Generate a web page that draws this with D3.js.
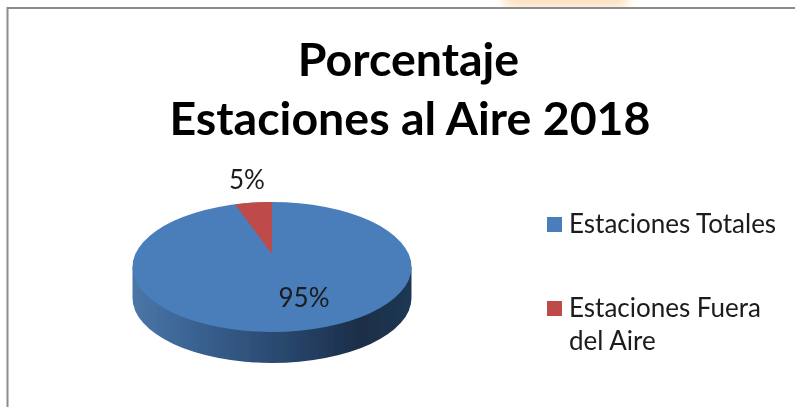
<!DOCTYPE html>
<html><head><meta charset="utf-8">
<script src="https://cdn.jsdelivr.net/npm/d3@7"></script>
<style>html,body{margin:0;padding:0;background:#fff}svg{display:block}text{font-family:Lato,"Open Sans",sans-serif}</style>
</head><body><svg id="c" width="795" height="407"></svg>
<script>
const categories = ["Estaciones Totales", "Estaciones Fuera del Aire"];
const values = [95, 5];
const percentLabels = ["95%", "5%"];
const titleLines = ["Porcentaje", "Estaciones al Aire 2018"];
const legendLines = [["Estaciones Totales"], ["Estaciones Fuera", "del Aire"]];
const colors = ["#4a7ebb", "#be4b48"];

const svg = d3.select("#c");
const defs = svg.append("defs");
defs.append("filter").attr("id","soft").attr("x","-5%").attr("y","-5%").attr("width","110%").attr("height","110%")
  .append("feGaussianBlur").attr("stdDeviation",0.45);
defs.append("filter").attr("id","glow").attr("x","-30%").attr("y","-100%").attr("width","160%").attr("height","300%")
  .append("feGaussianBlur").attr("stdDeviation",6);
const grad = defs.append("linearGradient").attr("id","side");
[[0,"#4a76a8"],[0.25,"#38608f"],[0.55,"#29466c"],[0.82,"#1a2e48"],[1,"#1f3854"]].forEach(([o,c])=>
  grad.append("stop").attr("offset",o).attr("stop-color",c));

// page decoration and chart frame
svg.append("rect").attr("x",505).attr("y",-8).attr("width",122).attr("height",14)
  .attr("fill","#fbd9b0").attr("filter","url(#glow)");
svg.append("rect").attr("width",795).attr("height",407).attr("x",0).attr("y",8).attr("fill","#fff");
svg.append("path").attr("d","M7.5 407V8H795").attr("fill","none").attr("stroke","#8c8c8c").attr("stroke-width",2);

// title
svg.append("g").attr("filter","url(#soft)").selectAll("text").data(titleLines).join("text")
  .attr("x",(d,i)=>i?410:408.5).attr("y",(d,i)=>76+i*59).attr("text-anchor","middle")
  .attr("font-size",46.5).attr("font-weight",700).attr("fill","#000").text(d=>d);

// pie
const cx=272, cy=267, rx=139.5, ry=65, depth=31, apexY=254, perspective=0.855;
const arcs = d3.pie().sort(null).value(d=>d)(values);
const g = svg.append("g").attr("filter","url(#soft)");
const rim = a => [cx+rx*Math.sin(a), cy-ry*Math.cos(a)];

// side wall: straight edges then the lower half of the same ellipse, shifted down
const side = `M${cx-rx} ${cy}V${cy+depth}A${rx} ${ry} 0 0 0 ${cx+rx} ${cy+depth}V${cy}Z`;
g.append("path").attr("d",side).attr("fill","url(#side)");

// top face
g.append("ellipse").attr("cx",cx).attr("cy",cy).attr("rx",rx).attr("ry",ry).attr("fill",colors[0]);
const wedge = arcs[1];
const toView = a => rim((a-2*Math.PI)*perspective);
const w = d3.path();
w.moveTo(cx,apexY);
d3.range(0,21).forEach(i=>{
  const a = wedge.startAngle+(wedge.endAngle-wedge.startAngle)*i/20;
  const [px,py]=toView(a); w.lineTo(px,py);
});
w.closePath();
g.append("path").attr("d",w.toString()).attr("fill",colors[1]);

// data labels
const labelPos=[[304,307],[247,189]];
svg.append("g").attr("filter","url(#soft)").selectAll("text").data(percentLabels).join("text")
  .attr("x",(d,i)=>labelPos[i][0]).attr("y",(d,i)=>labelPos[i][1]).attr("text-anchor","middle")
  .attr("font-size",26).attr("fill","#1a1a1a").text(d=>d);

// legend
const leg = svg.append("g").attr("filter","url(#soft)");
const legY=[225,309];
categories.forEach((c,i)=>{
  leg.append("rect").attr("x",547).attr("y",legY[i]-8).attr("width",15).attr("height",15).attr("fill",colors[i]);
  legendLines[i].forEach((t,j)=>{
    leg.append("text").attr("x",569).attr("y",legY[i]+8+j*33).attr("font-size",26).attr("fill","#1a1a1a").text(t);
  });
});
</script></body></html>
